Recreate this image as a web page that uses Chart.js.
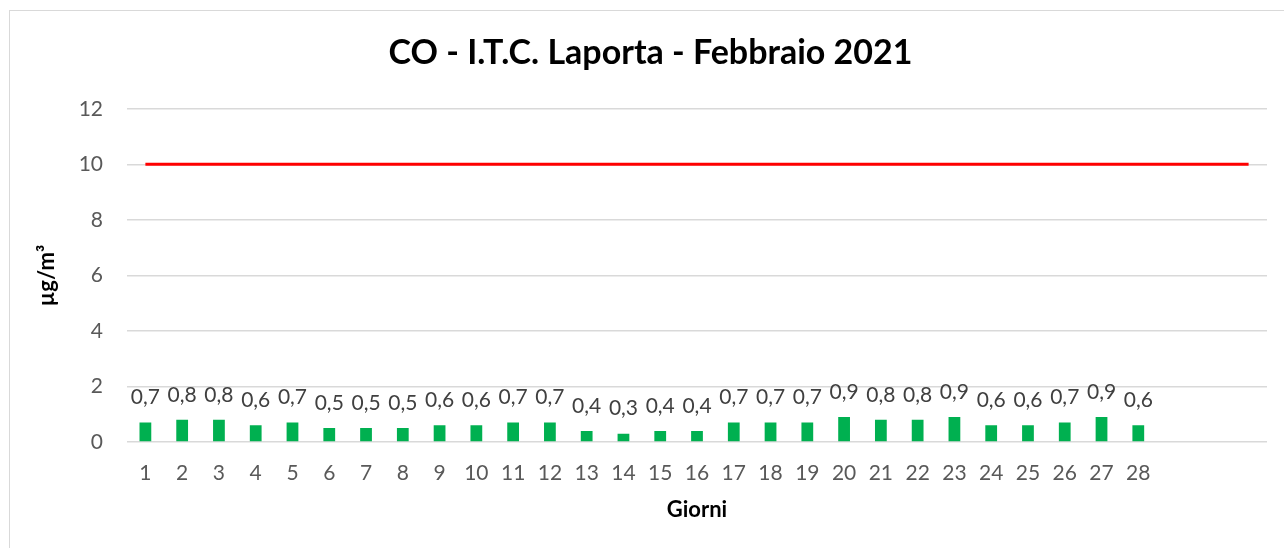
<!DOCTYPE html>
<html>
<head>
<meta charset="utf-8">
<script src="https://cdn.jsdelivr.net/npm/chart.js@4/dist/chart.umd.min.js"></script>
<style>
  html, body { margin: 0; padding: 0; background: #fff; overflow: hidden; }
  #frame { position: absolute; left: 9px; top: 10px; width: 1290px; height: 560px; border: 1px solid #d9d9d9; }
  #wrap { position: absolute; left: 0; top: 0; width: 1284px; height: 548px; }
</style>
</head>
<body>
<div id="frame"></div>
<div id="wrap"><canvas id="chart"></canvas></div>
<script>
// giorni di febbraio (le ultime tre colonne sono vuote)
const days = ['1','2','3','4','5','6','7','8','9','10','11','12','13','14','15','16','17','18','19','20',
              '21','22','23','24','25','26','27','28','','',''];
const coValues = [0.7,0.8,0.8,0.6,0.7,0.5,0.5,0.5,0.6,0.6,0.7,0.7,0.4,0.3,0.4,0.4,0.7,0.7,0.7,0.9,
                  0.8,0.8,0.9,0.6,0.6,0.7,0.9,0.6];
const limitValues = [10,10,10,10,10,10,10,10,10,10,10,10,10,10,10,10,10,10,10,10,10,10,10,10,10,10,10,10,10,10,10];
const yTicks = [0,2,4,6,8,10,12];

const fontFamily = 'Lato, "Open Sans", sans-serif';

// etichette dei valori sopra le barre
const barLabels = {
    id: 'barLabels',
    afterDatasetsDraw(chart) {
        const ctx = chart.ctx;
        const meta = chart.getDatasetMeta(1);
        ctx.save();
        ctx.font = '21px ' + fontFamily;
        ctx.fillStyle = '#404040';
        ctx.textAlign = 'center';
        ctx.textBaseline = 'middle';
        meta.data.forEach((bar, i) => {
            const v = coValues[i];
            if (v === undefined) return;
            ctx.fillText(v.toFixed(1).replace('.', ','), bar.x, bar.y - 25);
        });
        ctx.restore();
    }
};

new Chart(document.getElementById('chart'), {
    type: 'bar',
    data: {
        labels: days,
        datasets: [{
            type: 'line',
            label: 'Limite',
            data: limitValues,
            borderColor: '#ff0000',
            borderWidth: 3,
            pointRadius: 0,
            fill: false,
            order: 0
        }, {
            label: 'CO',
            data: coValues,
            backgroundColor: '#00b050',
            categoryPercentage: 1,
            barPercentage: 0.32,
            order: 1
        }]
    },
    options: {
        responsive: true,
        maintainAspectRatio: false,
        animation: false,
        layout: { padding: { left: 34, right: 17, top: 0, bottom: 25 } },
        plugins: {
            legend: { display: false },
            tooltip: { enabled: false },
            title: {
                display: true,
                text: 'CO - I.T.C. Laporta - Febbraio 2021',
                color: '#000',
                font: { family: fontFamily, size: 34, weight: 'bold' },
                padding: { top: 33, bottom: 35 }
            }
        },
        scales: {
            x: {
                grid: { display: false, drawTicks: false },
                border: { display: false },
                ticks: { color: '#595959', font: { family: fontFamily, size: 21 }, padding: 19, autoSkip: false, maxRotation: 0 },
                title: { display: true, text: 'Giorni', color: '#000', font: { family: fontFamily, size: 22, weight: 'bold' }, padding: 0 },
                afterFit(scale) { scale.height = 81; }
            },
            y: {
                min: 0,
                max: 12,
                afterBuildTicks(scale) { scale.ticks = yTicks.map(v => ({ value: v })); },
                grid: { color: '#d9d9d9', lineWidth: 1.5, drawTicks: false },
                border: { display: false },
                ticks: { color: '#595959', font: { family: fontFamily, size: 21 }, padding: 24 },
                title: { display: true, text: 'µg/m³', color: '#000', font: { family: fontFamily, size: 22, weight: 'bold' }, padding: 0 },
                afterFit(scale) { scale.width = 93; }
            }
        }
    },
    plugins: [barLabels]
});
</script>
</body>
</html>
